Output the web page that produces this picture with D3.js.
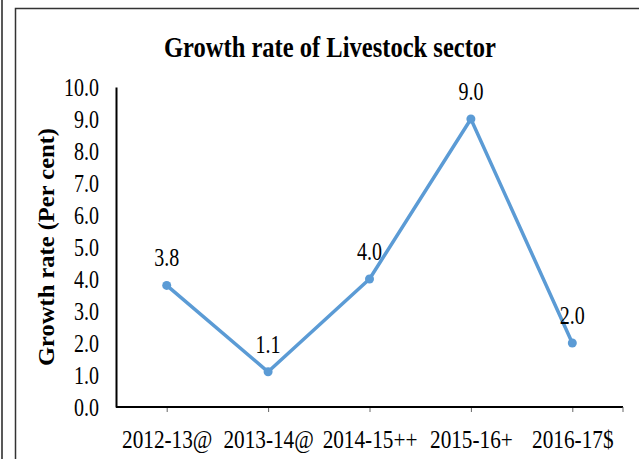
<!DOCTYPE html>
<html>
<head>
<meta charset="utf-8">
<script src="https://cdn.jsdelivr.net/npm/d3@7"></script>
<style>
    body { margin: 0; background: #fff; }
    svg { display: block; }
    text { font-family: "Liberation Serif", "Times New Roman", Times, serif; }
</style>
</head>
<body>
<div id="chart"></div>
<script>
// chart data
const years = ["2012-13@", "2013-14@", "2014-15++", "2015-16+", "2016-17$"];
const growth = [3.8, 1.1, 4.0, 9.0, 2.0];
const yTicks = [0, 1, 2, 3, 4, 5, 6, 7, 8, 9, 10];

const width = 639, height = 459;
const margin = { top: 87, right: 16, bottom: 52, left: 116 };
const serif = "'Liberation Serif', 'Times New Roman', Times, serif";
const squeeze = 0.8;   // the source text looks narrow, so squash it a bit

const svg = d3.select("#chart").append("svg")
    .attr("width", width)
    .attr("height", height);

// frame lines from the surrounding document
svg.append("line")
    .attr("x1", 2).attr("x2", 2).attr("y1", 0).attr("y2", height)
    .attr("stroke", "#222").attr("stroke-width", 1.5);
svg.append("path")
    .attr("d", "M15.5," + height + "V8.5H" + width)
    .attr("fill", "none").attr("stroke", "#333").attr("stroke-width", 1.5);

// scales
const x = d3.scalePoint()
    .domain(years)
    .range([margin.left, width - margin.right])
    .padding(0.5);

const y = d3.scaleLinear()
    .domain([0, 10])
    .range([height - margin.bottom, margin.top]);

// title
svg.append("text")
    .attr("x", 330)
    .attr("y", 57)
    .attr("text-anchor", "middle")
    .style("font-family", serif)
    .attr("font-size", 30)
    .attr("font-weight", "bold")
    .attr("textLength", 332)
    .attr("lengthAdjust", "spacingAndGlyphs")
    .text("Growth rate of Livestock sector");

// y axis title
svg.append("text")
    .attr("transform", "translate(54," + y(5) + ") rotate(-90)")
    .attr("text-anchor", "middle")
    .style("font-family", serif)
    .attr("font-size", 23)
    .attr("font-weight", "bold")
    .attr("textLength", 238)
    .attr("lengthAdjust", "spacingAndGlyphs")
    .text("Growth rate (Per cent)");

// y axis: labels only, plain line
const yAxis = d3.axisLeft(y)
    .tickValues(yTicks)
    .tickFormat(d3.format(".1f"))
    .tickSize(0)
    .tickPadding(0);

const gy = svg.append("g")
    .attr("transform", "translate(" + margin.left + ",0)")
    .call(yAxis)
    .attr("font-family", null);
gy.select(".domain").attr("stroke", "#000").attr("stroke-width", 2);
gy.selectAll("text")
    .style("font-family", serif)
    .attr("font-size", 25)
    .attr("fill", "#000")
    .attr("x", -17 / squeeze)
    .attr("transform", "scale(" + squeeze + ",1)");

// x axis
const xAxis = d3.axisBottom(x).tickSize(5).tickPadding(18);
const gx = svg.append("g")
    .attr("transform", "translate(0," + y(0) + ")")
    .call(xAxis)
    .attr("font-family", null);
gx.select(".domain").remove();
gx.append("line")
    .attr("x1", margin.left).attr("x2", width - margin.right)
    .attr("stroke", "#000").attr("stroke-width", 2);
gx.append("line")
    .attr("x1", width - margin.right).attr("x2", width - margin.right)
    .attr("y1", 0).attr("y2", 5)
    .attr("stroke", "#666").attr("stroke-width", 1);
gx.selectAll(".tick line").attr("stroke", "#666");
gx.selectAll("text")
    .style("font-family", serif)
    .attr("font-size", 25)
    .attr("fill", "#000")
    .attr("transform", "scale(0.85,1)");

// line
const line = d3.line()
    .x((d, i) => x(years[i]))
    .y(d => y(d));

svg.append("path")
    .datum(growth)
    .attr("fill", "none")
    .attr("stroke", "#5B9BD5")
    .attr("stroke-width", 3.5)
    .attr("stroke-linejoin", "round")
    .attr("d", line);

svg.selectAll(".dot")
    .data(growth)
    .enter().append("circle")
    .attr("class", "dot")
    .attr("cx", (d, i) => x(years[i]))
    .attr("cy", d => y(d))
    .attr("r", 4.5)
    .attr("fill", "#5B9BD5");

// data labels
svg.selectAll(".lbl")
    .data(growth)
    .enter().append("text")
    .attr("class", "lbl")
    .attr("transform", (d, i) => "translate(" + x(years[i]) + "," + (y(d) - 19) + ") scale(" + squeeze + ",1)")
    .attr("text-anchor", "middle")
    .style("font-family", serif)
    .attr("font-size", 25)
    .text(d => d.toFixed(1));
</script>
</body>
</html>
